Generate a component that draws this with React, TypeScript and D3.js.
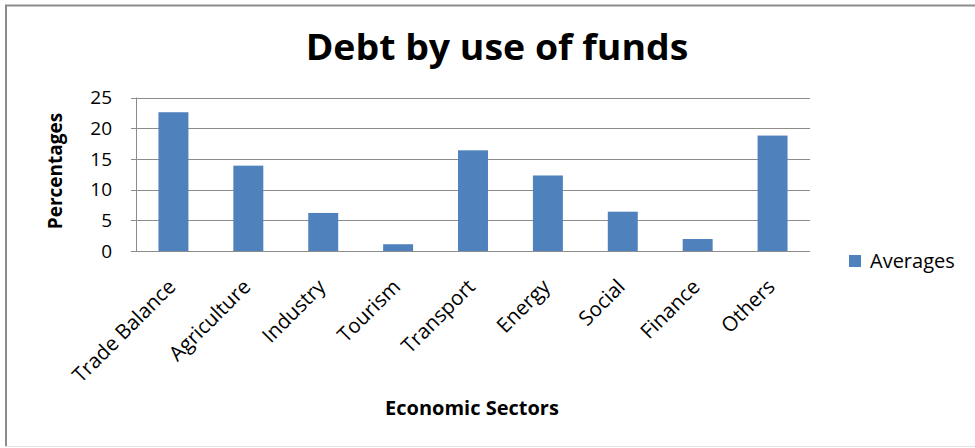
import React from "react";
import * as d3 from "d3";

const categories = ["Trade Balance", "Agriculture", "Industry", "Tourism", "Transport", "Energy", "Social", "Finance", "Others"];
const averages = [22.6, 13.9, 6.2, 1.1, 16.4, 12.3, 6.4, 1.95, 18.8];
const yTicks = [0, 5, 10, 15, 20, 25];
const seriesName = "Averages";
const title = "Debt by use of funds";
const xTitle = "Economic Sectors";
const yTitle = "Percentages";

const W = 975;
const H = 448;
const plot = { left: 136, right: 810, top: 97.5, bottom: 251 };
const FONT = "'Open Sans', sans-serif";
const BAR = "#4f81bd";

export default function App() {
  const x = d3.scaleBand<string>().domain(categories).range([plot.left, plot.right]).paddingInner(0.6).paddingOuter(0.3);
  const y = d3.scaleLinear().domain([0, 25]).range([plot.bottom, plot.top]);
  const band = (plot.right - plot.left) / categories.length;
  return (
    <svg width={W} height={H} style={{ position: "absolute", left: 0, top: 0, background: "#fff" }}>
      <rect x={0} y={0} width={W} height={H} fill="#fff" />
      {/* frame */}
      <line x1={5} y1={5.5} x2={W} y2={5.5} stroke="#8c8c8c" strokeWidth={2} />
      <line x1={6} y1={5} x2={6} y2={447} stroke="#8c8c8c" strokeWidth={2} />
      <line x1={5} y1={446.5} x2={W} y2={446.5} stroke="#e4e4e4" strokeWidth={1} />

      <text transform="translate(497 60) scale(1.07 1)" textAnchor="middle" fontFamily={FONT} fontWeight="bold" fontSize={35} fill="#000">{title}</text>

      {/* gridlines */}
      {yTicks.map((t) => (
        <g key={t}>
          <line x1={plot.left - 5} x2={plot.right} y1={Math.round(y(t)) + 0.5} y2={Math.round(y(t)) + 0.5} stroke="#8c8c8c" strokeWidth={1} />
          <text x={112} y={y(t)} dy="0.36em" textAnchor="end" fontFamily={FONT} fontSize={19} fill="#000">{t}</text>
        </g>
      ))}
      <line x1={plot.left + 0.5} x2={plot.left + 0.5} y1={plot.top} y2={plot.bottom} stroke="#8c8c8c" />

      {/* bars */}
      {categories.map((c, i) => {
        const cx = plot.left + band * (i + 0.5);
        const bw = x.bandwidth();
        return (
          <rect key={c} x={cx - bw / 2} y={y(averages[i])} width={bw} height={y(0) - y(averages[i])} fill={BAR} />
        );
      })}
      <line x1={plot.left} x2={plot.right} y1={Math.round(y(0)) + 0.5} y2={Math.round(y(0)) + 0.5} stroke="#8c8c8c" />

      {/* x labels */}
      {categories.map((c, i) => {
        const cx = plot.left + band * (i + 0.5) + 3.5;
        const ty = 288;
        return (
          <text key={c} x={cx} y={ty} textAnchor="end" fontFamily={FONT} fontSize={20.5} fill="#000" transform={`rotate(-45 ${cx} ${ty})`}>{c}</text>
        );
      })}

      <text x={472} y={415} textAnchor="middle" fontFamily={FONT} fontWeight="bold" fontSize={20} fill="#000">{xTitle}</text>
      <text transform={`translate(62 ${171}) rotate(-90)`} textAnchor="middle" fontFamily={FONT} fontWeight="bold" fontSize={19} fill="#000">{yTitle}</text>

      {/* legend */}
      <rect x={849} y={255} width={12} height={12} fill={BAR} />
      <text x={870} y={268} fontFamily={FONT} fontSize={20} fill="#000">{seriesName}</text>
    </svg>
  );
}
